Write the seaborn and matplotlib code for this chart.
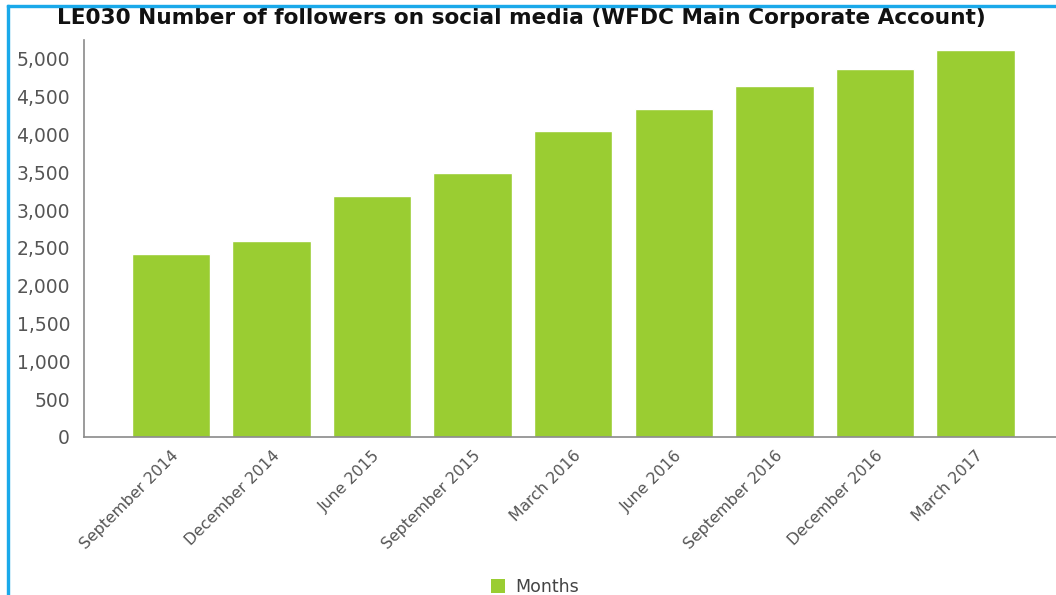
import matplotlib
matplotlib.use("Agg")
import matplotlib.pyplot as plt
import matplotlib.ticker as mticker
from matplotlib.patches import Rectangle, Patch
import pandas as pd
import seaborn as sns

# Quarterly follower counts for the corporate social media account
months = ["September 2014", "December 2014", "June 2015", "September 2015",
          "March 2016", "June 2016", "September 2016", "December 2016",
          "March 2017"]
followers = [2415, 2590, 3190, 3490, 4045, 4340, 4640, 4865, 5115]
y_ticks = [0, 500, 1000, 1500, 2000, 2500, 3000, 3500, 4000, 4500, 5000]

title = "LE030 Number of followers on social media (WFDC Main Corporate Account)"
series_name = "Months"

bar_color = "#9ACD32"
text_gray = "#555555"
axis_gray = "#8a8a8a"
frame_blue = "#1AA9EA"

sns.set_theme(style="white")
plt.rcParams["font.family"] = ["DejaVu Sans"]

W, H = 1056, 595
fig = plt.figure(figsize=(W / 100, H / 100), dpi=100)
fig.patch.set_facecolor("white")

ax = fig.add_axes([84 / W, (H - 437) / H, (W - 84) / W, (437 - 40) / H])

df = pd.DataFrame({"month": months, "followers": followers})
sns.barplot(data=df, x="month", y="followers", color=bar_color,
            saturation=1, width=0.78, ax=ax, order=months)

ax.set_xlim(-0.865, 8.8)
ax.set_ylim(0, 5250)
ax.set_yticks(y_ticks)
ax.yaxis.set_major_formatter(mticker.FuncFormatter(lambda v, p: f"{int(v):,}"))
ax.set_xlabel("")
ax.set_ylabel("")

for s in ["top", "right"]:
    ax.spines[s].set_visible(False)
for s in ["left", "bottom"]:
    ax.spines[s].set_color(axis_gray)
    ax.spines[s].set_linewidth(1.2)

ax.tick_params(axis="both", which="major", direction="out", length=4,
               width=1, color=axis_gray, labelcolor=text_gray)
ax.tick_params(axis="y", pad=6, labelsize=13.5)
ax.tick_params(axis="x", pad=4, labelsize=11.3)
ax.set_xticks(range(len(months)))
ax.set_xticklabels(months, rotation=45, ha="right", rotation_mode="anchor")

fig.text(521 / W, 1 - 18 / H, title, ha="center", va="center",
         fontsize=15.6, fontweight="bold", color="#111111")

# Legend
fig.legend(handles=[Patch(facecolor=bar_color, edgecolor="none", label=series_name)],
           loc="center", bbox_to_anchor=(535 / W, 1 - 587 / H), frameon=False,
           fontsize=12.5, labelcolor="#444444", handlelength=0.8, handleheight=0.8,
           handletextpad=0.6)

# Blue outer frame (left and top edges visible)
fig.patches.append(Rectangle((7 / W, -0.05), 2 / W, 1.05 - 5 / H,
                             transform=fig.transFigure, color=frame_blue, zorder=5))
fig.patches.append(Rectangle((7 / W, 1 - 7 / H), 1.0, 2 / H,
                             transform=fig.transFigure, color=frame_blue, zorder=5))

fig.savefig("out.png", dpi=100)
